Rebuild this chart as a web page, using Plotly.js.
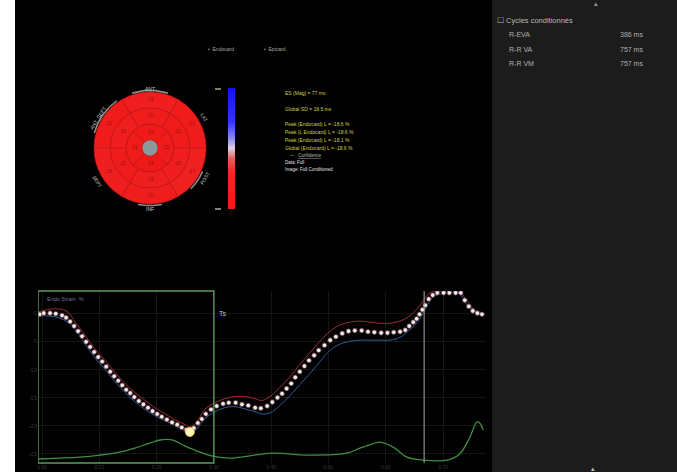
<!DOCTYPE html>
<html><head><meta charset="utf-8">
<script src="https://cdn.plot.ly/plotly-3.0.1.min.js"></script>
<style>html,body{margin:0;padding:0;background:#000;overflow:hidden}#c{width:677px;height:472px}</style>
</head><body><div id="c"></div>
<script>
// ---- Strain curve (dotted, averaged) ----
const dotTime = [-4,3,14,24,35,42,49,56,63,70,77,84,91,98,105,112,119,126,133,140,147,154,161,169,177,185,193,201,209,218,227,236,244,252,258,265,272,279,286,295,305,316,326,338,349,360,372,382,393,402,411,419,427,435,442,450,458,466,475,483,493,503,513,524,535,546,558,569,580,592,603,614,625,634,641,648,654,659,664,669,675,682,690,701,711,722,731,738,745,752,760,768];
const dotStrain = [-0.2,0.0,0.0,-0.1,-0.4,-0.8,-1.5,-2.3,-3.2,-4.1,-5.1,-6.0,-6.9,-7.8,-8.6,-9.5,-10.4,-11.2,-12.0,-12.8,-13.6,-14.2,-14.9,-15.6,-16.2,-16.8,-17.4,-17.9,-18.4,-18.9,-19.4,-19.8,-20.3,-20.7,-21.1,-20.4,-19.5,-18.8,-17.9,-17.1,-16.5,-16.1,-15.9,-15.9,-16.2,-16.4,-16.8,-16.9,-16.5,-15.8,-15.0,-14.3,-13.4,-12.5,-11.4,-10.4,-9.4,-8.4,-7.5,-6.6,-5.7,-4.8,-4.2,-3.6,-3.2,-3.1,-3.1,-3.3,-3.4,-3.5,-3.5,-3.4,-3.3,-3.0,-2.3,-1.6,-1.0,-0.2,0.6,1.4,2.5,3.2,3.6,3.6,3.6,3.6,3.6,2.3,1.2,0.4,0.0,-0.2];
// ---- Endocardial (red) and epicardial (blue) traces ----
const lineTime = [-7,14,31,45,58,75,92,110,127,145,162,180,197,215,232,250,258,269,284,302,319,337,354,372,384,398,415,433,450,468,485,503,520,538,555,572,590,607,625,639,651,660,670,681,695,729,738,747,756,768];
const redStrain = [0.2,0.7,0.7,0.2,-1.6,-3.9,-6.3,-8.4,-10.5,-12.5,-14.1,-15.5,-16.8,-17.9,-18.9,-19.8,-20.2,-19.5,-17.1,-15.9,-15.2,-14.8,-14.8,-15.2,-15.5,-14.8,-13.2,-11.3,-9.1,-7.0,-5.0,-3.2,-2.1,-1.6,-1.4,-1.6,-1.8,-1.8,-1.4,-0.7,0.4,1.4,2.9,3.8,3.9,3.9,2.7,1.4,0.5,0.0];
const blueStrain = [-0.5,-0.5,-0.9,-1.6,-2.9,-5.4,-7.9,-10.0,-12.1,-14.1,-15.7,-17.1,-18.2,-19.1,-20.0,-20.9,-21.4,-20.7,-18.8,-17.5,-16.8,-16.6,-17.0,-17.5,-17.9,-17.7,-16.4,-14.6,-12.7,-10.7,-8.6,-6.6,-5.5,-5.0,-4.8,-4.8,-4.8,-4.8,-4.3,-3.2,-2.1,-0.9,0.9,2.7,3.4,3.4,2.0,0.9,0.2,-0.4];
// ---- Green trace (lower) ----
const greenTime = [-7,31,66,101,136,162,188,206,227,250,276,298,328,346,403,462,532,555,576,590,613,637,665,707,729,747,759,764,770];
const greenVal = [0.35,0.40,0.46,0.58,0.75,0.98,1.27,1.45,1.45,1.10,0.75,0.52,0.40,0.46,0.69,0.58,0.69,0.98,1.21,1.33,1.04,0.46,0.29,0.29,0.64,1.62,2.49,2.43,2.02];
// ---- Axis ticks ----
const xTickVals = [0,100,200,300,400,500,600,700];
const xTickText = ['0.00','0.10','0.20','0.30','0.40','0.50','0.60','0.70'];
const yTickVals = [0,-5,-10,-15,-20,-25];
const yTickText = ['0','-5','-10','-15','-20','-25'];
// ---- Events (ms) ----
const windowStart = -7, windowEnd = 300, avcTime = 667;
// ---- Bull's eye segments ----
const basalTheta = [90,150,210,270,330,30];
const basalStrain = [-19,-22,-18,-20,-17,-21];
const midTheta = [90,150,210,270,330,30];
const midStrain = [-20,-19,-21,-18,-19,-22];
const apicalTheta = [90,180,270,0];
const apicalStrain = [-23,-21,-24,-22];
const wallLabels = ['ANT','ANT_SEPT','SEPT','INF','POST','LAT'];
// ---- Right panel ----
const panelTitle = '\u2610 Cycles conditionn\u00e9s';
const panelRows = ['R-EVA','R-R VA','R-R VM'];
const panelVals = ['386 ms','757 ms','757 ms'];
// ---- Result text ----
const resultLines = ['ES (Mag) = 77 ms','Global SD = 18.5 ms','','Peak (Endocard) L = -18.6 %','Peak (L Endocard) L = -18.6 %','Peak (Endocard) L = -18.1 %','Global (Endocard) L = -18.6 %'];
const infoLines = ['Data: Full','Image: Full Conditioned'];
const legendItems = ['\u2022  Endocard','\u2022  Epicard'];

const W = 677, H = 472;
const FONT = 'Liberation Sans, Arial, sans-serif';
function A(text, px, py, o) {
  o = o || {};
  return Object.assign({xref:'paper', yref:'paper', x:px/W, y:1-py/H, text:text, showarrow:false,
    xanchor:'left', yanchor:'middle', font:{family:FONT, size:o.size||5, color:o.color||'#d0d040'}}, o.extra||{});
}

// bull's eye arrays
const R = {apex:0.55, apical:1.7, mid:2.85, basal:4};
const segTheta = basalTheta.concat(midTheta, apicalTheta);
const segStrain = basalStrain.concat(midStrain, apicalStrain);
const segBase = basalTheta.map(()=>R.mid).concat(midTheta.map(()=>R.apical), apicalTheta.map(()=>R.apex));
const segLen = basalTheta.map(()=>R.basal-R.mid).concat(midTheta.map(()=>R.mid-R.apical), apicalTheta.map(()=>R.apical-R.apex));
const segWidth = basalTheta.map(()=>60).concat(midTheta.map(()=>60), apicalTheta.map(()=>90));
const segTextR = segBase.map((b,i)=>b+segLen[i]/2);

const cscale = [[0,'#f01818'],[0.3,'#f02828'],[0.42,'#e86060'],[0.5,'#e0d0e8'],[0.58,'#8c8cf4'],[0.72,'#3434f0'],[1,'#1414e8']];

let minIdx = 0;
dotStrain.forEach((v,i)=>{ if (v < dotStrain[minIdx]) minIdx = i; });

const traces = [
  {type:'barpolar', theta:segTheta, r:segLen, base:segBase, width:segWidth,
   marker:{color:segStrain, colorscale:cscale, cmin:-25, cmax:25, line:{color:'#c41a1a', width:0.7},
     showscale:true, colorbar:{x:228/W, xanchor:'left', xpad:0, ypad:0, thickness:7, len:121, lenmode:'pixels',
       y:1-149/H, yanchor:'middle', outlinewidth:0, ticks:'', showticklabels:false}},
   hoverinfo:'skip', showlegend:false, subplot:'polar'},
  {type:'barpolar', theta:[0], r:[R.apex], base:[0], width:[360], marker:{color:'#8a9a9c', line:{width:0}},
   showlegend:false, subplot:'polar', hoverinfo:'skip'},
  {type:'scatterpolar', mode:'text', theta:segTheta, r:segTextR, text:segStrain.map(String),
   textfont:{family:FONT, size:5, color:'#9a1010'}, showlegend:false, subplot:'polar', hoverinfo:'skip'},
  {type:'scatterpolar', mode:'lines',
   theta:[72,84,96,108,null,125,135,145,155,165,null,315,322,329,336,null,258,266,274,282],
   r:[4.12,4.12,4.12,4.12,null,4.12,4.12,4.12,4.12,4.12,null,4.12,4.12,4.12,4.12,null,4.12,4.12,4.12,4.12],
   line:{color:'#8c8c8c', width:1.6}, connectgaps:false, showlegend:false, subplot:'polar', hoverinfo:'skip'},
  // strain lines
  {type:'scatter', x:greenTime, y:greenVal, yaxis:'y2', mode:'lines', line:{color:'#3e8e3e', width:1.3, shape:'spline'}, showlegend:false},
  {type:'scatter', x:lineTime, y:blueStrain, mode:'lines', line:{color:'#2c5c9c', width:1, shape:'spline'}, showlegend:false},
  {type:'scatter', x:lineTime, y:redStrain, mode:'lines', line:{color:'#a02838', width:1, shape:'spline'}, showlegend:false},
  {type:'scatter', x:dotTime, y:dotStrain, mode:'markers', marker:{size:4.6, color:'#f2efe6', line:{color:'#5a3040', width:0.8}}, showlegend:false},
  {type:'scatter', x:[dotTime[minIdx]], y:[dotStrain[minIdx]], mode:'markers', marker:{size:9, color:'#fff4c0', line:{color:'#e0c050', width:1}}, showlegend:false}
];

const ann = [];
resultLines.forEach((t,i)=>{ if (t) ann.push(A(t, 283, [93,109,0,124,132,140,148][i])); });
ann.push(A('\u2014   <u>Confidence</u>', 288, 155, {color:'#b8b8b8', size:4.5}));
infoLines.forEach((t,i)=>ann.push(A(t, 283, 162+i*7, {color:'#e0e0e0', size:4.5})));
legendItems.forEach((t,i)=>ann.push(A(t, [206,262][i], 49, {color:'#a8a8a8', size:5})));
// wall labels around bull's eye
const wl = [[150,89,0],[98,118,-58],[97,181,58],[150,209,0],[205,178,-58],[204,117,58]];
wallLabels.forEach((t,i)=>ann.push(A(t, wl[i][0], wl[i][1], {color:'#c8c8c8', size:5, extra:{xanchor:'center', textangle:wl[i][2]}})));
// plot texts
ann.push(A('Endo Strain  %', 45, 299, {color:'#7a6a9c', size:5.5}));
ann.push(A('Ts', 217, 313, {color:'#c0c0c0', size:7}));
// right panel
ann.push(A(panelTitle, 495, 20, {color:'#b8b8b8', size:7.5}));
panelRows.forEach((t,i)=>{
  ann.push(A(t, 507, [34,50,64][i], {color:'#b0b0b0', size:7}));
  ann.push(A(panelVals[i], 618, [34,50,64][i], {color:'#b0b0b0', size:7}));
});
ann.push(A('\u25b4', 596, 4, {color:'#9a9a9a', size:7, extra:{xanchor:'center'}}));
ann.push(A('\u25b4', 593, 468, {color:'#c0c0c0', size:7, extra:{xanchor:'center'}}));

const ydom = [(H-463)/H, (H-291)/H];
const shapes = [
  {type:'rect', xref:'paper', yref:'paper', x0:0, x1:15/W, y0:0, y1:1, fillcolor:'#ffffff', line:{width:0}, layer:'below'},
  {type:'rect', xref:'paper', yref:'paper', x0:492/W, x1:1, y0:0, y1:1, fillcolor:'#1c1c1c', line:{width:0}, layer:'below'},
  {type:'rect', xref:'x', yref:'paper', x0:windowStart, x1:windowEnd, y0:ydom[0], y1:ydom[1], line:{color:'#5e9a5e', width:1.4}},
  {type:'line', xref:'x', yref:'paper', x0:avcTime, x1:avcTime, y0:ydom[0], y1:ydom[1], line:{color:'#a8a8a8', width:1}},
  {type:'line', xref:'paper', yref:'paper', x0:215/W, x1:221/W, y0:1-89/H, y1:1-89/H, line:{color:'#d8d890', width:1.2}},
  {type:'line', xref:'paper', yref:'paper', x0:215/W, x1:221/W, y0:1-209/H, y1:1-209/H, line:{color:'#d8d8d8', width:1.2}}
];

const layout = {
  width:W, height:H, margin:{l:0,r:0,t:0,b:0}, paper_bgcolor:'#000', plot_bgcolor:'#000',
  showlegend:false, font:{family:FONT},
  xaxis:{domain:[38/W, 486/W], range:[-7,775], tickvals:xTickVals, ticktext:xTickText, showgrid:true, gridcolor:'#111811',
    zeroline:false, showline:false, ticks:'', tickfont:{size:5, color:'#3a3a3a'}, ticklabelstandoff:0},
  yaxis:{domain:ydom, range:[-26.61,3.93], tickvals:yTickVals, ticktext:yTickText, showgrid:true, gridcolor:'#111811',
    zeroline:false, showline:false, ticks:'', tickfont:{size:6, color:'#353535'}},
  yaxis2:{domain:ydom, overlaying:'y', range:[0.12,10.06], visible:false},
  polar:{domain:{x:[90.5/W, 209.5/W], y:[1-207.5/H, 1-88.5/H]}, bgcolor:'rgba(0,0,0,0)',
    radialaxis:{visible:false, range:[0,4.25]}, angularaxis:{visible:false, direction:'counterclockwise', rotation:0},
    barmode:'overlay', bargap:0},
  annotations:ann, shapes:shapes
};
Plotly.newPlot('c', traces, layout, {staticPlot:true, displayModeBar:false});
</script></body></html>
